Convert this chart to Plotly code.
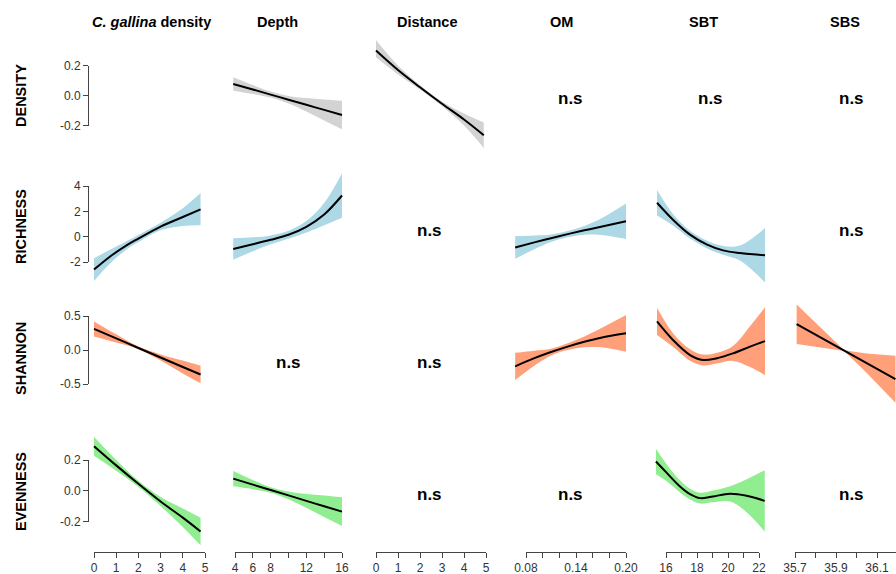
import plotly.graph_objects as go

W, H = 896, 574
FONT = "Liberation Sans, Arial, sans-serif"

# ---------------- data ----------------
# DENSITY ~ Depth
dens_depth_x = [3.8, 6, 8, 10, 12, 14, 16]
dens_depth_fit = [0.077, 0.040, 0.006, -0.028, -0.062, -0.096, -0.130]
dens_depth_lo = [0.032, 0.010, -0.014, -0.053, -0.107, -0.166, -0.225]
dens_depth_hi = [0.122, 0.070, 0.026, -0.003, -0.017, -0.026, -0.035]

# DENSITY ~ Distance
dens_dist_x = [0, 1, 2, 3, 4, 4.9]
dens_dist_fit = [0.30, 0.17, 0.055, -0.055, -0.16, -0.265]
dens_dist_lo = [0.255, 0.14, 0.04, -0.07, -0.20, -0.35]
dens_dist_hi = [0.37, 0.20, 0.07, -0.04, -0.12, -0.18]

# RICHNESS ~ C. gallina density
rich_cg_x = [0, 0.7, 1.5, 2, 3, 4, 4.8]
rich_cg_fit = [-2.6, -1.6, -0.65, -0.15, 0.8, 1.55, 2.15]
rich_cg_lo = [-3.5, -2.15, -0.98, -0.43, 0.5, 0.85, 0.9]
rich_cg_hi = [-1.7, -1.05, -0.32, 0.13, 1.1, 2.25, 3.45]

# RICHNESS ~ Depth
rich_depth_x = [3.8, 6, 8, 10, 12, 14, 16]
rich_depth_fit = [-0.97, -0.6, -0.25, 0.15, 0.78, 1.75, 3.25]
rich_depth_lo = [-1.82, -1.15, -0.60, -0.17, 0.33, 0.90, 1.5]
rich_depth_hi = [-0.12, -0.05, 0.10, 0.47, 1.23, 2.65, 5.0]

# RICHNESS ~ OM
rich_om_x = [0.067, 0.09, 0.11, 0.13, 0.15, 0.17, 0.20]
rich_om_fit = [-0.85, -0.45, -0.12, 0.2, 0.5, 0.78, 1.22]
rich_om_lo = [-1.75, -1.0, -0.42, -0.05, 0.15, 0.13, -0.18]
rich_om_hi = [0.05, 0.10, 0.18, 0.45, 0.85, 1.43, 2.62]

# RICHNESS ~ SBT
rich_sbt_x = [15.42, 16.45, 17.55, 18.65, 19.68, 20.77, 22.39]
rich_sbt_fit = [2.68, 1.34, 0.16, -0.63, -1.08, -1.29, -1.47]
rich_sbt_lo = [1.68, 0.89, -0.14, -0.93, -1.43, -1.89, -3.62]
rich_sbt_hi = [3.68, 1.79, 0.46, -0.33, -0.73, -0.69, 0.68]

# SHANNON ~ C. gallina density
shan_cg_x = [0, 1, 2, 3, 4, 4.8]
shan_cg_fit = [0.31, 0.17, 0.03, -0.11, -0.25, -0.36]
shan_cg_lo = [0.20, 0.11, 0.01, -0.155, -0.345, -0.49]
shan_cg_hi = [0.42, 0.23, 0.05, -0.065, -0.155, -0.23]

# SHANNON ~ OM
shan_om_x = [0.067, 0.09, 0.11, 0.13, 0.15, 0.17, 0.20]
shan_om_fit = [-0.24, -0.12, -0.03, 0.05, 0.12, 0.18, 0.245]
shan_om_lo = [-0.44, -0.23, -0.08, 0.0, 0.04, 0.04, -0.025]
shan_om_hi = [-0.04, -0.01, 0.02, 0.10, 0.20, 0.32, 0.515]

# SHANNON ~ SBT
shan_sbt_x = [15.42, 16.45, 17.55, 18.39, 19.29, 20.32, 21.42, 22.39]
shan_sbt_fit = [0.42, 0.147, -0.074, -0.147, -0.12, -0.05, 0.05, 0.13]
shan_sbt_lo = [0.22, 0.047, -0.159, -0.227, -0.2, -0.16, -0.25, -0.37]
shan_sbt_hi = [0.62, 0.247, 0.011, -0.067, -0.04, 0.06, 0.35, 0.63]

# SHANNON ~ SBS
shan_sbs_x = [35.708, 35.8, 35.94, 36.05, 36.19]
shan_sbs_fit = [0.38, 0.225, -0.01, -0.195, -0.43]
shan_sbs_lo = [0.09, 0.045, -0.015, -0.34, -0.775]
shan_sbs_hi = [0.67, 0.405, -0.005, -0.05, -0.085]

# EVENNESS ~ C. gallina density
even_cg_x = [0, 1, 2, 3, 4, 4.8]
even_cg_fit = [0.29, 0.165, 0.045, -0.07, -0.175, -0.265]
even_cg_lo = [0.228, 0.13, 0.025, -0.10, -0.235, -0.355]
even_cg_hi = [0.352, 0.20, 0.065, -0.04, -0.115, -0.175]

# EVENNESS ~ Depth
even_depth_x = [3.8, 6, 8, 10, 12, 14, 16]
even_depth_fit = [0.079, 0.040, 0.005, -0.030, -0.066, -0.101, -0.136]
even_depth_lo = [0.029, 0.010, -0.013, -0.055, -0.111, -0.171, -0.229]
even_depth_hi = [0.129, 0.070, 0.023, -0.005, -0.021, -0.031, -0.043]

# EVENNESS ~ SBT
even_sbt_x = [15.35, 16.05, 16.9, 17.55, 18.19, 19.03, 20.13, 21.2, 22.37]
even_sbt_fit = [0.19, 0.116, 0.028, -0.022, -0.048, -0.037, -0.02, -0.033, -0.066]
even_sbt_lo = [0.107, 0.061, -0.012, -0.057, -0.083, -0.075, -0.07, -0.14, -0.266]
even_sbt_hi = [0.273, 0.171, 0.068, 0.013, -0.013, 0.001, 0.03, 0.075, 0.134]

col_titles = ["<i>C. gallina</i> density", "Depth", "Distance", "OM", "SBT", "SBS"]
row_titles = ["DENSITY", "RICHNESS", "SHANNON", "EVENNESS"]

x_tickvals = [
    [0, 1, 2, 3, 4, 5],
    [4, 6, 8, 10, 12, 14, 16],
    [0, 1, 2, 3, 4, 5],
    [0.08, 0.10, 0.12, 0.14, 0.16, 0.18, 0.20],
    [16, 17, 18, 19, 20, 21, 22],
    [35.7, 35.8, 35.9, 36.0, 36.1],
]
x_ticktext = [
    ["0", "1", "2", "3", "4", "5"],
    ["4", "6", "8", "", "12", "", "16"],
    ["0", "1", "2", "3", "4", "5"],
    ["0.08", "", "", "0.14", "", "", "0.20"],
    ["16", "", "18", "", "20", "", "22"],
    ["35.7", "", "35.9", "", "36.1"],
]
y_tickvals = [[-0.2, 0, 0.2], [-2, 0, 2, 4], [-0.5, 0, 0.5], [-0.2, 0, 0.2]]
y_ticktext = [["-0.2", "0.0", "0.2"], ["-2", "0", "2", "4"],
              ["-0.5", "0.0", "0.5"], ["-0.2", "0.0", "0.2"]]

GREY, BLUE, SALMON, GREEN = "#D3D3D3", "#ADD8E6", "#FFA07A", "#90EE90"
row_colors = [GREY, BLUE, SALMON, GREEN]

# (row, col, x, fit, lower, upper)
panels = [
    (0, 1, dens_depth_x, dens_depth_fit, dens_depth_lo, dens_depth_hi),
    (0, 2, dens_dist_x, dens_dist_fit, dens_dist_lo, dens_dist_hi),
    (1, 0, rich_cg_x, rich_cg_fit, rich_cg_lo, rich_cg_hi),
    (1, 1, rich_depth_x, rich_depth_fit, rich_depth_lo, rich_depth_hi),
    (1, 3, rich_om_x, rich_om_fit, rich_om_lo, rich_om_hi),
    (1, 4, rich_sbt_x, rich_sbt_fit, rich_sbt_lo, rich_sbt_hi),
    (2, 0, shan_cg_x, shan_cg_fit, shan_cg_lo, shan_cg_hi),
    (2, 3, shan_om_x, shan_om_fit, shan_om_lo, shan_om_hi),
    (2, 4, shan_sbt_x, shan_sbt_fit, shan_sbt_lo, shan_sbt_hi),
    (2, 5, shan_sbs_x, shan_sbs_fit, shan_sbs_lo, shan_sbs_hi),
    (3, 0, even_cg_x, even_cg_fit, even_cg_lo, even_cg_hi),
    (3, 1, even_depth_x, even_depth_fit, even_depth_lo, even_depth_hi),
    (3, 4, even_sbt_x, even_sbt_fit, even_sbt_lo, even_sbt_hi),
]
not_significant = [(0, 3), (0, 4), (0, 5), (1, 2), (1, 5), (2, 1), (2, 2),
                   (3, 2), (3, 3), (3, 5)]

# ---------------- geometry (pixels) ----------------
col_center = [148 + 140.7 * k for k in range(6)]
row_center = [98 + 132 * r for r in range(4)]
HALF_W, HALF_H = 59, 62
x_axis_px = 552     # bottom axis line
y_axis_px = 89      # left axis line

# value -> pixel calibration of each column / row scale
xcal = [((0, 94), (5, 205)), ((4, 235), (16, 342)), ((0, 376), (5, 486)),
        ((0.08, 526), (0.20, 626)), ((16, 666), (22, 759)), ((35.7, 795), (36.1, 877))]
ycal = [((0.2, 65.5), (-0.2, 125.5)), ((4, 186), (-2, 262)),
        ((0.5, 316), (-0.5, 384)), ((0.2, 460), (-0.2, 521.5))]


def val_at(cal, px):
    (v1, p1), (v2, p2) = cal
    return v1 + (px - p1) * (v2 - v1) / (p2 - p1)


def px_at(cal, v):
    (v1, p1), (v2, p2) = cal
    return p1 + (v - v1) * (p2 - p1) / (v2 - v1)


def fx(px):
    return min(max(px / W, 0), 1)


def fy(px):
    return min(max(1 - px / H, 0), 1)


fig = go.Figure()
layout = {}
n = 0


def new_axes():
    global n
    n += 1
    return n


# curve panels: confidence band (lower edge + filled upper edge) and fitted line
for (r, c, xs, fit, lo, hi) in panels:
    k = new_axes()
    L, R = col_center[c] - HALF_W, col_center[c] + HALF_W
    T, B = row_center[r] - HALF_H, row_center[r] + HALF_H
    R_clip = min(R, W)
    layout[f"xaxis{k}"] = dict(domain=[fx(L), fx(R_clip)], visible=False,
                               range=[val_at(xcal[c], L), val_at(xcal[c], R_clip)],
                               anchor=f"y{k}", fixedrange=True)
    layout[f"yaxis{k}"] = dict(domain=[fy(B), fy(T)], visible=False,
                               range=[val_at(ycal[r], B), val_at(ycal[r], T)],
                               anchor=f"x{k}", fixedrange=True)
    shape = "linear" if c == 5 else "spline"
    fig.add_trace(go.Scatter(x=xs, y=lo, mode="lines", line=dict(width=0, shape=shape),
                             xaxis=f"x{k}", yaxis=f"y{k}", showlegend=False, hoverinfo="skip"))
    fig.add_trace(go.Scatter(x=xs, y=hi, mode="lines", line=dict(width=0, shape=shape),
                             fill="tonexty", fillcolor=row_colors[r],
                             xaxis=f"x{k}", yaxis=f"y{k}", showlegend=False, hoverinfo="skip"))
    fig.add_trace(go.Scatter(x=xs, y=fit, mode="lines",
                             line=dict(color="black", width=2, shape=shape),
                             xaxis=f"x{k}", yaxis=f"y{k}", showlegend=False))

tick_font = dict(family=FONT, size=12, color="#333")
axis_style = dict(showline=True, linecolor="#444", linewidth=1, ticks="outside",
                  ticklen=5, tickwidth=1, tickcolor="#444", showgrid=False,
                  zeroline=False, tickfont=tick_font, fixedrange=True)

# bottom axes: anchored to a hidden y axis whose domain starts on the axis line
kb = new_axes()
layout[f"yaxis{kb}"] = dict(domain=[fy(x_axis_px), fy(x_axis_px - 20)], visible=False,
                            range=[0, 1], anchor=f"x{kb}", fixedrange=True)
layout[f"xaxis{kb}"] = dict(domain=[0, 1], visible=False, range=[0, 1],
                            anchor=f"y{kb}", fixedrange=True)
fig.add_trace(go.Scatter(x=[], y=[], xaxis=f"x{kb}", yaxis=f"y{kb}", showlegend=False))
for c in range(6):
    k = new_axes()
    v0, v1 = x_tickvals[c][0], x_tickvals[c][-1]
    p0, p1 = px_at(xcal[c], v0), px_at(xcal[c], v1)
    if c == 5:
        p1 = W
        v1 = val_at(xcal[c], W)
    layout[f"xaxis{k}"] = dict(domain=[fx(p0), fx(p1)], range=[v0, v1],
                               anchor=f"y{kb}", side="bottom", tickvals=x_tickvals[c],
                               ticktext=x_ticktext[c], tickangle=0, **axis_style)
    fig.add_trace(go.Scatter(x=[], y=[], xaxis=f"x{k}", yaxis=f"y{kb}", showlegend=False))

# left axes: anchored to a hidden x axis whose domain starts on the axis line
kl = new_axes()
layout[f"xaxis{kl}"] = dict(domain=[fx(y_axis_px), fx(col_center[0] + HALF_W)],
                            visible=False, range=[0, 1], anchor=f"y{kl}", fixedrange=True)
layout[f"yaxis{kl}"] = dict(domain=[0, 1], visible=False, range=[0, 1],
                            anchor=f"x{kl}", fixedrange=True)
fig.add_trace(go.Scatter(x=[], y=[], xaxis=f"x{kl}", yaxis=f"y{kl}", showlegend=False))
for r in range(4):
    k = new_axes()
    v0, v1 = y_tickvals[r][0], y_tickvals[r][-1]
    p0, p1 = px_at(ycal[r], v0), px_at(ycal[r], v1)
    layout[f"yaxis{k}"] = dict(domain=[fy(p0), fy(p1)], range=[v0, v1],
                               anchor=f"x{kl}", tickvals=y_tickvals[r],
                               ticktext=y_ticktext[r], **axis_style)
    fig.add_trace(go.Scatter(x=[], y=[], xaxis=f"x{kl}", yaxis=f"y{k}", showlegend=False))

annotations = []
title_x = [151, 277, 427, 561, 703, 845]
for c, t in enumerate(col_titles):
    annotations.append(dict(text=f"<b>{t}</b>", x=fx(title_x[c]), y=fy(22),
                            xref="paper", yref="paper", showarrow=False,
                            xanchor="center", yanchor="middle",
                            font=dict(family=FONT, size=14.5, color="black")))
row_label_y = [96, 227, 359, 492]
for r, t in enumerate(row_titles):
    annotations.append(dict(text=f"<b>{t}</b>", x=fx(21), y=fy(row_label_y[r]),
                            xref="paper", yref="paper", showarrow=False, textangle=-90,
                            xanchor="center", yanchor="middle",
                            font=dict(family=FONT, size=14.5, color="black")))
for (r, c) in not_significant:
    annotations.append(dict(text="<b>n.s</b>", x=fx(col_center[c]), y=fy(row_center[r]),
                            xref="paper", yref="paper", showarrow=False,
                            xanchor="center", yanchor="middle",
                            font=dict(family=FONT, size=17, color="black")))

fig.update_layout(
    width=W, height=H, margin=dict(l=0, r=0, t=0, b=0),
    paper_bgcolor="white", plot_bgcolor="rgba(0,0,0,0)",
    template="none", showlegend=False, annotations=annotations,
    **layout,
)

fig.write_html("out.html", config={"displayModeBar": False})
